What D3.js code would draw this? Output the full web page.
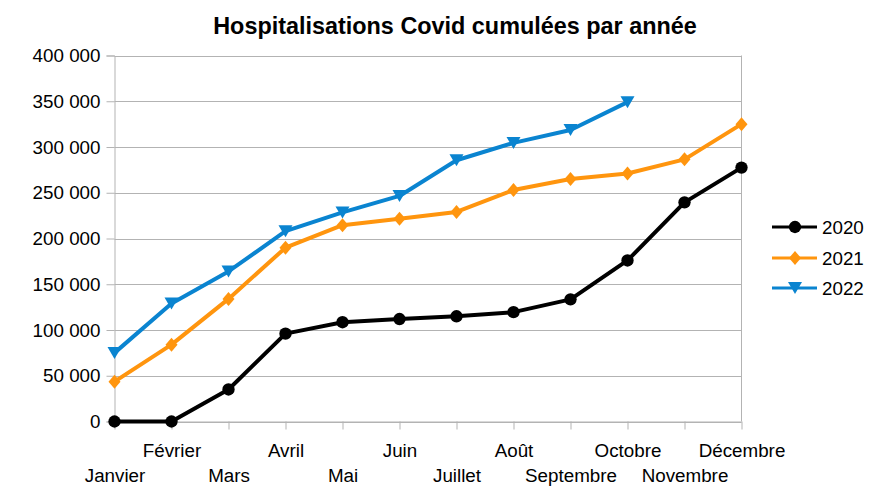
<!DOCTYPE html>
<html><head><meta charset="utf-8">
<script src="https://cdn.jsdelivr.net/npm/d3@7"></script>
<style>
body{margin:0;background:#fff;}
text{font-family:"Liberation Sans",Arial,sans-serif;fill:#000;}
</style></head><body>
<svg id="c" width="879" height="502"></svg>
<script>
const months = ["Janvier","Février","Mars","Avril","Mai","Juin","Juillet","Août","Septembre","Octobre","Novembre","Décembre"];
const v2020 = [0,0,35000,96000,108500,112000,115000,119500,133500,176000,239500,277500];
const v2021 = [43500,84000,134000,190000,214500,221500,229000,253000,265000,271000,286500,325000];
const v2022 = [75000,129000,164000,208000,228500,246500,285500,304500,318500,349000,null,null];
const seriesNames = ["2020","2021","2022"];
const yTicks = [0,50000,100000,150000,200000,250000,300000,350000,400000];

const series = [
  {name:seriesNames[0], values:v2020, color:"#000000", marker:"circle"},
  {name:seriesNames[1], values:v2021, color:"#ff950e", marker:"diamond"},
  {name:seriesNames[2], values:v2022, color:"#0a84d0", marker:"triangle"}
];

const svg = d3.select("#c");
const L=114.5, R=741.5, T=55.5, B=421.5;
const FS = "18.8px";
const x = d3.scalePoint().domain(months).range([L,R]);
const y = d3.scaleLinear().domain([0,400000]).range([B,T]);
const fmt = v => d3.format(",")(v).replace(/,/g," ");

// gridlines
svg.append("g").selectAll("line").data(yTicks).join("line")
  .attr("x1",L).attr("x2",R).attr("y1",d=>Math.round(y(d))+0.5).attr("y2",d=>Math.round(y(d))+0.5)
  .attr("stroke","#b3b3b3").attr("stroke-width",1);
svg.append("line").attr("x1",R).attr("x2",R).attr("y1",T).attr("y2",B).attr("stroke","#b3b3b3");

// y axis
const yAxis = d3.axisLeft(y).tickValues(yTicks).tickFormat(fmt).tickSize(8).tickPadding(6);
const gy = svg.append("g").attr("transform",`translate(${L},0)`).call(yAxis);
gy.select(".domain").attr("stroke","#b3b3b3");
gy.selectAll(".tick line").attr("stroke","#b3b3b3");
gy.selectAll(".tick text").attr("font-size",FS).attr("font-family","Liberation Sans, Arial, sans-serif").attr("fill","#000");

// x axis
const xAxis = d3.axisBottom(x).tickSize(8).tickPadding(0);
const gx = svg.append("g").attr("transform",`translate(0,${B})`).call(xAxis);
gx.select(".domain").attr("stroke","#b3b3b3").attr("d",`M${L},0.5H${R}`);
gx.selectAll(".tick line").attr("stroke","#b3b3b3");
gx.selectAll(".tick text").attr("font-size",FS).attr("font-family","Liberation Sans, Arial, sans-serif").attr("fill","#000")
  .attr("dy",null)
  .attr("y",(d,i)=> i%2===1 ? 35.5 : 60.5);

// lines
const line = d3.line().defined(d=>d.v!=null).x(d=>x(d.m)).y(d=>y(d.v));
function markerPath(type){
  if(type==="circle") return d3.symbol(d3.symbolCircle, 120)();
  if(type==="diamond") return "M0,-7L6,0L0,7L-6,0Z";
  return "M-7,-6L7,-6L0,6Z";
}
series.forEach(s=>{
  const pts = months.map((m,i)=>({m, v:s.values[i]}));
  svg.append("path").datum(pts).attr("d",line).attr("fill","none")
    .attr("stroke",s.color).attr("stroke-width",4).attr("stroke-linejoin","round");
  svg.append("g").selectAll("path").data(pts.filter(d=>d.v!=null)).join("path")
    .attr("d",markerPath(s.marker)).attr("fill",s.color)
    .attr("transform",d=>`translate(${x(d.m)},${y(d.v)})`);
});

// legend
const lg = svg.append("g");
const legY = [227,258,288];
series.forEach((s,i)=>{
  const g = lg.append("g").attr("transform",`translate(0,${legY[i]})`);
  g.append("line").attr("x1",772).attr("x2",817).attr("stroke",s.color).attr("stroke-width",3);
  g.append("path").attr("d",markerPath(s.marker)).attr("fill",s.color).attr("transform","translate(795,0)");
  g.append("text").attr("x",822).attr("y",0).attr("dy","0.35em").attr("font-size",FS).text(s.name);
});

// title
svg.append("text").attr("x",455).attr("y",34).attr("text-anchor","middle")
  .attr("font-size","23.4px").attr("font-weight","bold").text("Hospitalisations Covid cumulées par année");
</script>
</body></html>
